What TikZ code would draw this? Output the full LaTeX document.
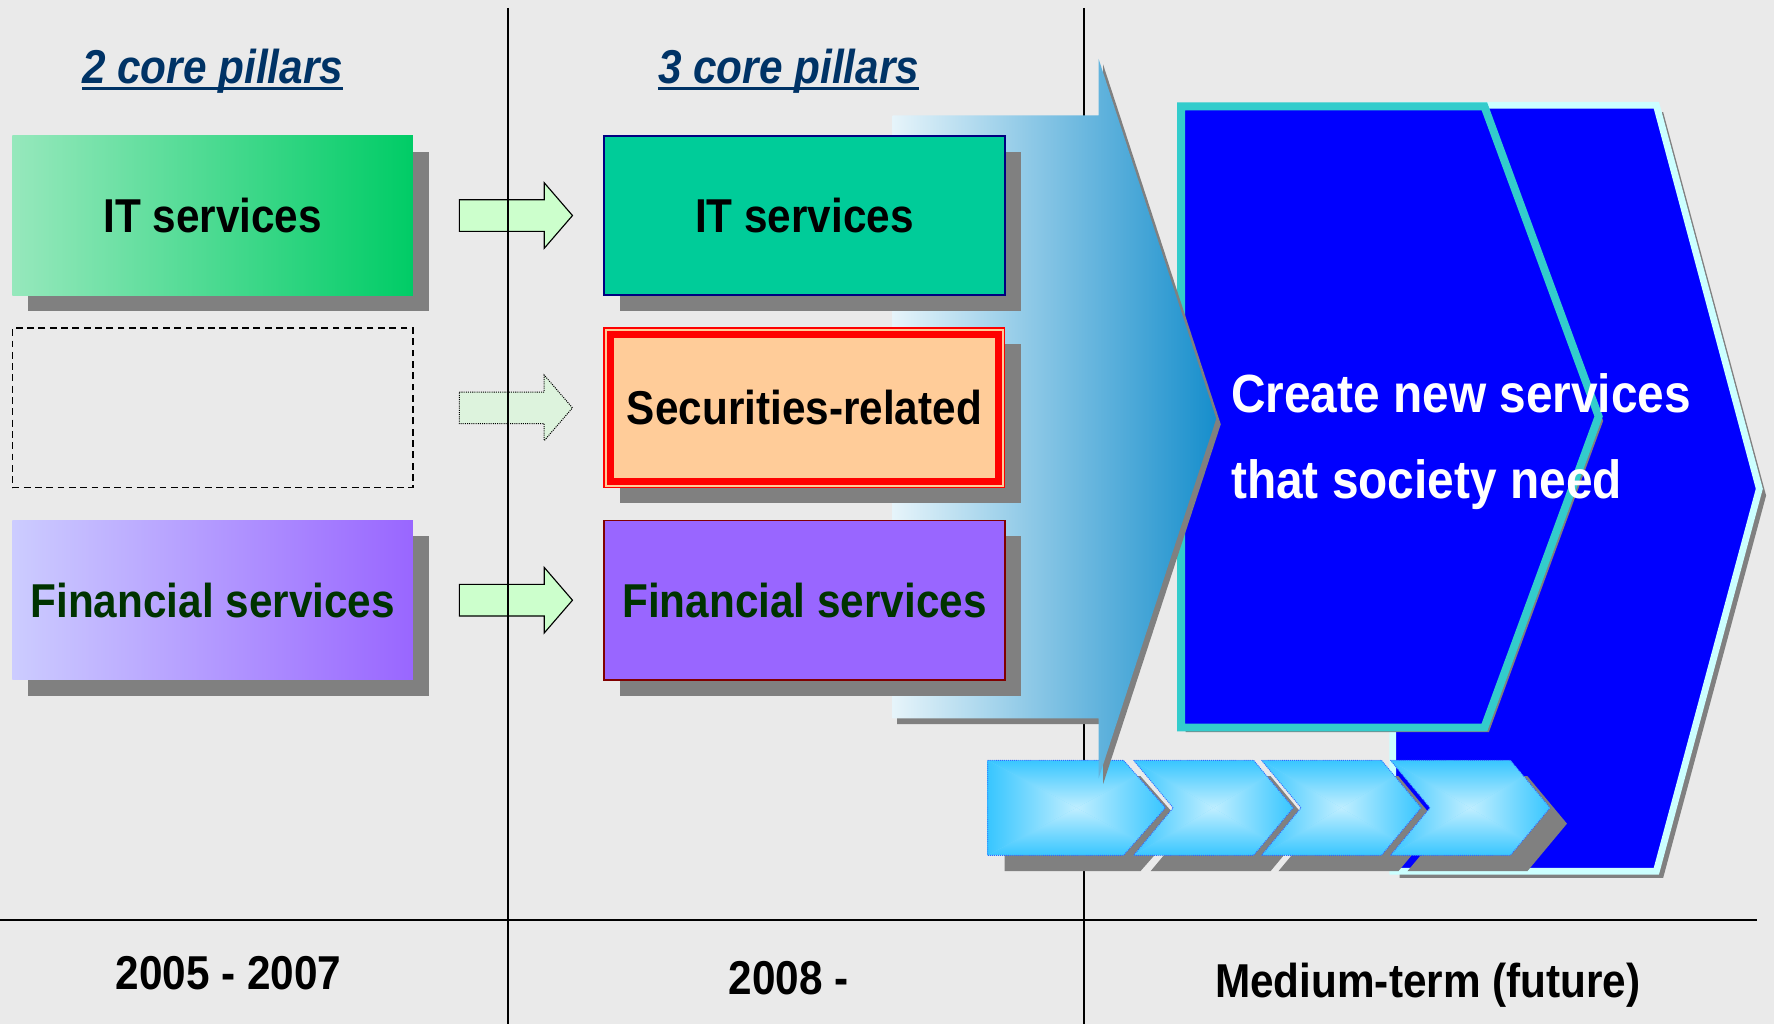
\documentclass[tikz,border=0pt]{standalone}
\usepackage{fontspec}
\setmainfont{Liberation Sans}[FakeStretch=0.89]
\usetikzlibrary{shadows,calc}

\definecolor{canvas}{RGB}{234,234,234}
\definecolor{shadowgray}{RGB}{128,128,128}
\definecolor{titlenavy}{RGB}{0,51,102}
\definecolor{itlight}{RGB}{150,232,188}
\definecolor{itdeep}{RGB}{0,204,102}
\definecolor{itsolid}{RGB}{0,204,153}
\definecolor{boxnavy}{RGB}{0,0,128}
\definecolor{finlight}{RGB}{204,204,255}
\definecolor{findeep}{RGB}{153,102,255}
\definecolor{fingreen}{RGB}{0,51,0}
\definecolor{boxmaroon}{RGB}{128,0,0}
\definecolor{peach}{RGB}{255,204,153}
\definecolor{secred}{RGB}{255,0,0}
\definecolor{mint}{RGB}{204,255,204}
\definecolor{mintpale}{RGB}{221,243,221}
\definecolor{flowpale}{RGB}{230,244,250}
\definecolor{flowdeep}{RGB}{22,142,204}
\definecolor{goalblue}{RGB}{0,0,255}
\definecolor{goalteal}{RGB}{51,204,204}
\definecolor{goalice}{RGB}{204,255,255}
\definecolor{steplight}{RGB}{192,238,255}
\definecolor{stepdeep}{RGB}{56,198,255}
\definecolor{stepmid}{RGB}{120,218,255}
\definecolor{stepedge}{RGB}{51,102,255}

\newcommand{\labelfont}{\fontsize{42}{48}\selectfont\bfseries}
\newcommand{\goalfont}{\fontsize{47.5}{56}\selectfont\bfseries}

% four-sided (pyramid) fill of a step between x = #1 and x = #2
\newcommand{\pyramidshade}[2]{%
  \fill[stepmid] (#1,672) rectangle ({#2},756);
  \shade[top color=stepdeep, bottom color=steplight] (#1,672) -- ({#2},672) -- ({(#1+#2)/2},714) -- cycle;
  \shade[top color=steplight, bottom color=stepdeep] (#1,756) -- ({#2},756) -- ({(#1+#2)/2},714) -- cycle;
  \shade[left color=stepdeep, right color=steplight] (#1,672) -- (#1,756) -- ({(#1+#2)/2},714) -- cycle;
  \shade[left color=steplight, right color=stepdeep] ({#2},672) -- ({#2},756) -- ({(#1+#2)/2},714) -- cycle;
}

\tikzset{
  pillar/.style={minimum width=354pt, minimum height=141pt, inner sep=0pt, font=\labelfont,
    drop shadow={shadow xshift=14pt, shadow yshift=-14pt, fill=shadowgray, opacity=1}},
  blockarrow/.pic={\path[pic actions] (-50,-14) -- (25,-14) -- (25,-29) -- (50,0) -- (25,29) -- (25,14) -- (-50,14) -- cycle;},
  heading/.style={font=\labelfont\itshape, text=titlenavy, inner sep=0pt, anchor=base},
  period/.style={font=\labelfont, inner sep=0pt, anchor=base},
  divider/.style={line width=1.6pt, black},
  goaltext/.style={font=\goalfont, text=white, inner sep=0pt, anchor=base west},
  stepline/.style={draw=stepedge, line width=0.8pt, densely dotted},
}

\begin{document}
\begin{tikzpicture}[x=1pt,y=-1pt]
\fill[canvas] (0,0) rectangle (1568,905);
\useasboundingbox (0,0) rectangle (1568,905);

% transition arrows between the first two columns
\pic[draw=black, line width=1pt, fill=mint] at (456,190.5) {blockarrow};
\pic[draw=black, line width=0.9pt, densely dotted, fill=mintpale] at (456,360.5) {blockarrow};
\pic[draw=black, line width=1pt, fill=mint] at (456,530.5) {blockarrow};

% column and row dividers
\draw[divider] (449,7) -- (449,905);
\draw[divider] (958,7) -- (958,905);
\draw[divider] (0,813) -- (1553,813);

% goal chevrons (back, then front)
\fill[shadowgray, shift={(6,6)}] (1231,93) -- (1464,93) -- (1555,432) -- (1464,770) -- (1231,770) -- cycle;
\draw[fill=goalblue, draw=goalice, line width=6pt, line join=miter] (1231,93) -- (1464,93) -- (1555,432) -- (1464,770) -- (1231,770) -- cycle;
\fill[shadowgray, shift={(4,4)}] (1044,94) -- (1312,94) -- (1413,368) -- (1312,643) -- (1044,643) -- cycle;
\draw[fill=goalblue, draw=goalteal, line width=7pt, line join=miter] (1044,94) -- (1312,94) -- (1413,368) -- (1312,643) -- (1044,643) -- cycle;

% process steps along the bottom: shadows
\fill[shadowgray, shift={(15,14)}] (873,672) -- (993,672) -- (1030,714) -- (993,756) -- (873,756) -- cycle;
\foreach \L in {1002,1115,1229}{
  \fill[shadowgray, shift={(15,14)}] (\L,672) -- ({\L+106},672) -- ({\L+141},714) -- ({\L+106},756) -- (\L,756) -- ({\L+35},714) -- cycle;
}
% process steps: bodies
\begin{scope}
  \clip (873,672) -- (993,672) -- (1030,714) -- (993,756) -- (873,756) -- cycle;
  \pyramidshade{873}{1030}
\end{scope}
\draw[stepline] (873,672) -- (993,672) -- (1030,714) -- (993,756) -- (873,756) -- cycle;
\foreach \L in {1002,1115,1229}{
  \begin{scope}
    \clip (\L,672) -- ({\L+106},672) -- ({\L+141},714) -- ({\L+106},756) -- (\L,756) -- ({\L+35},714) -- cycle;
    \pyramidshade{\L}{\L+141}
  \end{scope}
  \draw[stepline] (\L,672) -- ({\L+106},672) -- ({\L+141},714) -- ({\L+106},756) -- (\L,756) -- ({\L+35},714) -- cycle;
}

% broad growth arrow behind the current pillars
\fill[shadowgray, shift={(4,5)}] (789,102) -- (971,102) -- (971,52) -- (1075,370) -- (971,688) -- (971,635) -- (789,635) -- cycle;
\shade[left color=flowpale, right color=flowdeep] (789,102) -- (971,102) -- (971,52) -- (1075,370) -- (971,688) -- (971,635) -- (789,635) -- cycle;

% pillars, 2005-2007
\node[pillar, left color=itlight, right color=itdeep] (itL) at (188,190.5) {IT services};
\node[draw=black, dash pattern=on 6pt off 4pt, line width=1.4pt, minimum width=354pt, minimum height=141pt] (gapL) at (188,360.5) {};
\node[pillar, left color=finlight, right color=findeep, text=fingreen] (finL) at (188,530.5) {Financial services};

% pillars, 2008 onwards
\node[pillar, fill=itsolid, draw=boxnavy, line width=1.5pt] (itM) at (711,190.5) {IT services};
\node[pillar, fill=peach, draw=secred, line width=1.2pt] (secM) at (711,360.5) {Securities-related};
\draw[secred, line width=6pt] ($(secM.south west)+(6,-6)$) rectangle ($(secM.north east)+(-6,6)$);
\node[pillar, fill=findeep, draw=boxmaroon, line width=1.5pt, text=fingreen] (finM) at (711,530.5) {Financial services};

% column headings
\node[heading] (h2) at (188,74) {2 core pillars};
\draw[titlenavy, line width=2.6pt] ($(h2.base west)+(0,4)$) -- ($(h2.base east)+(0,4)$);
\node[heading] (h3) at (697,74) {3 core pillars};
\draw[titlenavy, line width=2.6pt] ($(h3.base west)+(0,4)$) -- ($(h3.base east)+(0,4)$);

% goal statement
\node[goaltext] (goal1) at (1088,365) {Create new services};
\node[goaltext] (goal2) at (1088,441) {that society need};

% periods
\node[period] (p1) at (202,875) {2005 - 2007};
\node[period] (p2) at (697,879) {2008 -};
\node[period] (p3) at (1262,882) {Medium-term (future)};
\end{tikzpicture}
\end{document}
